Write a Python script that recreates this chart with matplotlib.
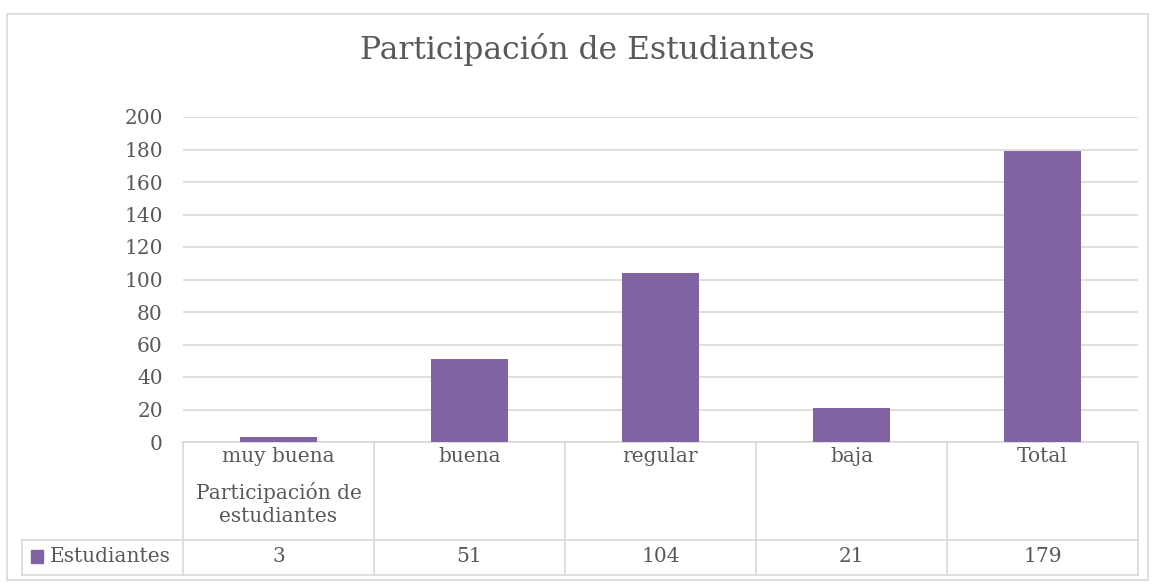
import matplotlib.pyplot as plt
from matplotlib.patches import Rectangle
import matplotlib.transforms as mtransforms

categorias = ["muy buena", "buena", "regular", "baja", "Total"]
estudiantes = [3, 51, 104, 21, 179]
grupo = "Participación de\nestudiantes"
serie = "Estudiantes"

morado = "#8064A2"
gris = "#595959"
linea = "#d9d9d9"
fs = 14.5

plt.rcParams['font.family'] = ['DejaVu Serif']

W, H = 1154, 585
fig = plt.figure(figsize=(W / 100, H / 100), dpi=100)

# borde del grafico
fig.patches.append(Rectangle((7 / W, 1 - 580 / H), 1141 / W, 566 / H, transform=fig.transFigure,
                             fill=False, edgecolor=linea, linewidth=1.2))

ax = fig.add_axes([183 / W, 1 - 442 / H, 955 / W, 325 / H])
x = range(len(categorias))
ax.bar(x, estudiantes, width=0.4, color=morado, zorder=3)
ax.set_xlim(-0.5, len(categorias) - 0.5)
ax.set_ylim(0, 200)
ax.set_yticks(range(0, 201, 20))
ax.grid(axis='y', color=linea, linewidth=1.2, zorder=0)
for s in ax.spines.values():
    s.set_visible(False)
ax.tick_params(axis='y', length=0, labelsize=fs, labelcolor=gris, pad=14.5)
ax.set_xticks([])

fig.text(587 / W, 1 - 50 / H, "Participación de Estudiantes", ha='center', va='center',
         fontsize=22.6, color=gris)

# tabla de datos debajo del eje
tr = mtransforms.blended_transform_factory(ax.transData, ax.transAxes)
px = 1 / 325
y_fila = -98 * px
y_fin = -133 * px
x_izq = -0.5 - 161 / 191
kw = dict(transform=tr, color=linea, linewidth=1.2, clip_on=False)
ax.plot([-0.5, 4.5], [0, 0], **kw)
ax.plot([x_izq, 4.5], [y_fila, y_fila], **kw)
ax.plot([x_izq, 4.5], [y_fin, y_fin], **kw)
ax.plot([x_izq, x_izq], [y_fila, y_fin], **kw)
for b in [i - 0.5 for i in range(len(categorias) + 1)]:
    ax.plot([b, b], [0, y_fin], **kw)

for i, (c, v) in enumerate(zip(categorias, estudiantes)):
    ax.text(i, -15 * px, c, transform=tr, ha='center', va='center', fontsize=fs, color=gris)
    ax.text(i, -115 * px, str(v), transform=tr, ha='center', va='center', fontsize=fs, color=gris)
ax.text(0, -62 * px, grupo, transform=tr, ha='center', va='center', fontsize=fs, color=gris,
        linespacing=1.25)

ax.add_patch(Rectangle((-0.5 - 152 / 191, -121 * px), 12 / 191, 13 * px, transform=tr,
                       color=morado, clip_on=False))
ax.text(-0.5 - 133 / 191, -115 * px, serie, transform=tr, ha='left', va='center',
        fontsize=fs, color=gris)

fig.savefig("out.png", dpi=100)
